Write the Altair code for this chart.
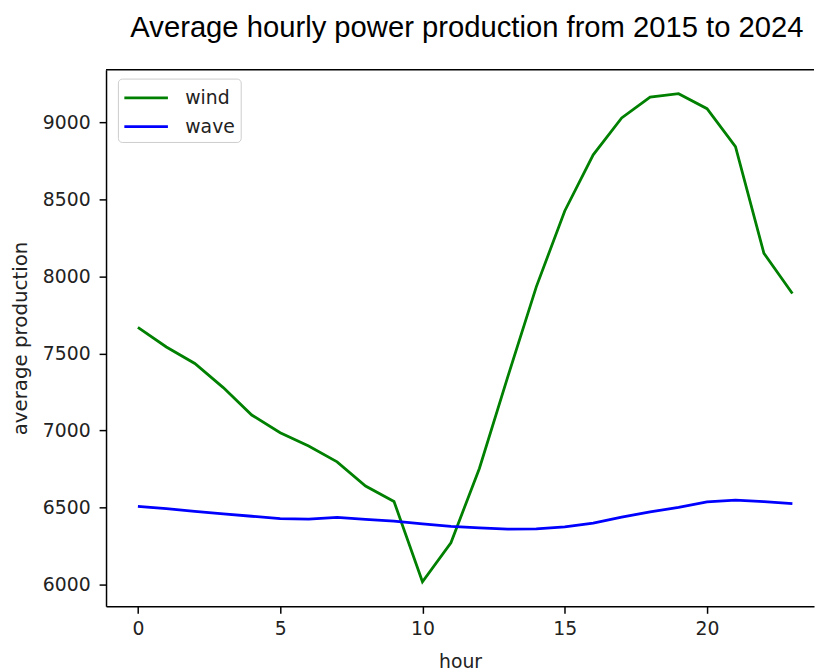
import altair as alt
import pandas as pd

hours = list(range(24))
wind = [7670, 7543, 7436, 7279, 7101, 6986, 6900, 6797, 6640, 6540, 6019, 6272,
        6754, 7350, 7933, 8426, 8790, 9030, 9165, 9187, 9090, 8844, 8151, 7890]
wave = [6508, 6493, 6476, 6459, 6444, 6429, 6425, 6436, 6423, 6412, 6395, 6378,
        6368, 6360, 6362, 6375, 6400, 6438, 6472, 6502, 6537, 6548, 6539, 6526]
series_names = ["wind", "wave"]
series_colors = ["green", "blue"]
x_ticks = [0, 5, 10, 15, 20]
y_ticks = [6000, 6500, 7000, 7500, 8000, 8500, 9000]

df = pd.DataFrame({"hour": hours, "wind": wind, "wave": wave}).melt(
    id_vars="hour", var_name="series", value_name="production")
df["order"] = df["series"].map({"wind": 0, "wave": 1})

W, H = 715, 542
FONT = "DejaVu Sans"

lines = alt.Chart(df).mark_line(strokeWidth=2.8, clip=True).encode(
    x=alt.X("hour:Q",
            scale=alt.Scale(domain=[-1.12, 23.76], nice=False, zero=False),
            axis=alt.Axis(values=x_ticks, title="hour", format="d", grid=False,
                          labelFontSize=19, titleFontSize=19, labelFont=FONT, titleFont=FONT,
                          titleFontWeight="normal", labelColor="#222", titleColor="#222",
                          domainColor="black", domainWidth=1.5, tickColor="black",
                          tickWidth=1.5, tickSize=7, labelPadding=6, titlePadding=15)),
    y=alt.Y("production:Q",
            scale=alt.Scale(domain=[5859, 9343], nice=False, zero=False),
            axis=alt.Axis(values=y_ticks, title="average production", format="d", grid=False,
                          labelFontSize=19, titleFontSize=20, labelFont=FONT, titleFont=FONT,
                          titleFontWeight="normal", labelColor="#222", titleColor="#222",
                          domainColor="black", domainWidth=1.5, tickColor="black",
                          tickWidth=1.5, tickSize=7, labelPadding=9, titlePadding=12)),
    color=alt.Color("series:N",
                    scale=alt.Scale(domain=series_names, range=series_colors),
                    sort=series_names,
                    legend=alt.Legend(title=None, orient="none", legendX=12, legendY=9,
                                      symbolType="M-1,0H2.385", symbolSize=676,
                                      symbolStrokeWidth=2.8, labelFont=FONT,
                                      labelFontSize=19, labelColor="#222",
                                      labelOffset=34, rowPadding=4, padding=5,
                                      fillColor="rgba(255,255,255,0.8)",
                                      strokeColor="#cccccc", cornerRadius=4)),
    order=alt.Order("order:Q"),
)

top_border = alt.Chart(pd.DataFrame({"a": [0]})).mark_rule(
    color="black", strokeWidth=1.5).encode(
    x=alt.value(0), x2=alt.value(W), y=alt.value(0))

chart = alt.layer(lines, top_border).properties(
    width=W, height=H,
    title=alt.TitleParams(text="Average hourly power production from 2015 to 2024",
                          font="Liberation Sans", fontSize=29.5, fontWeight="normal",
                          color="black", anchor="middle", dx=7, offset=26),
    autosize=alt.AutoSizeParams(type="none"),
    padding={"left": 99, "top": 59, "right": 2, "bottom": 64},
).configure_view(stroke=None)

chart.save("out.html", embed_options={"renderer": "svg", "actions": False})
